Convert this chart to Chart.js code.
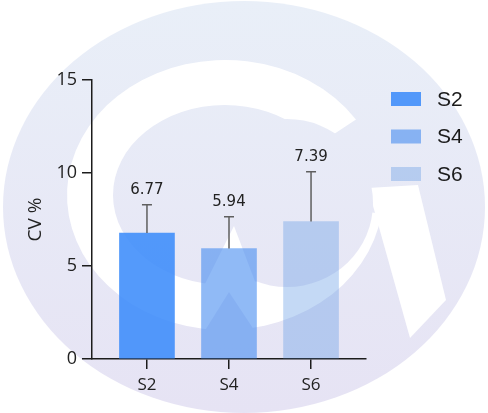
<!DOCTYPE html>
<html>
<head>
<meta charset="utf-8">
<script src="https://cdn.jsdelivr.net/npm/chart.js@4/dist/chart.umd.min.js"></script>
<style>
  html, body { margin: 0; padding: 0; background: #ffffff; }
  #wrap { width: 488px; height: 413px; }
</style>
</head>
<body>
<div id="wrap"><canvas id="chart-1" width="488" height="413"></canvas></div>
<script>
// data
var categories = ["S2", "S4", "S6"];
var cvValues = [6.77, 5.94, 7.39];
var errValues = [1.52, 1.71, 2.68]; // upper error bar length
var yTicks = [0, 5, 10, 15];

var barColors = [
  "rgba(60, 140, 250, 0.88)",
  "rgba(70, 140, 240, 0.6)",
  "rgba(100, 155, 230, 0.38)",
];

// faint round logo behind the plot
var watermark = {
  id: "watermark",
  beforeDraw: function (chart) {
    var ctx = chart.ctx;
    var lav = ctx.createLinearGradient(0, 0, 0, 413);
    lav.addColorStop(0, "#e9eff8");
    lav.addColorStop(1, "#e6e3f4");
    var rad = Math.PI / 180;
    ctx.save();
    ctx.fillStyle = "#ffffff";
    ctx.fillRect(0, 0, chart.width, chart.height);
    ctx.fillStyle = lav;
    ctx.beginPath();
    ctx.ellipse(244, 207, 241, 206, 0, 0, Math.PI * 2);
    ctx.fill();
    // white C ring
    ctx.fillStyle = "#ffffff";
    ctx.beginPath();
    ctx.ellipse(225, 195, 158, 135, 0, 8 * rad, 326 * rad);
    ctx.ellipse(225, 195, 112, 90, 0, 326 * rad, 8 * rad, true);
    ctx.closePath();
    ctx.fill();
    // white stroke towards the V
    ctx.beginPath();
    ctx.moveTo(368, 188);
    ctx.lineTo(418, 185);
    ctx.lineTo(446, 300);
    ctx.lineTo(410, 338);
    ctx.closePath();
    ctx.fill();
    // right inner lobe
    ctx.fillStyle = lav;
    ctx.beginPath();
    ctx.ellipse(287, 203, 86, 84, 0, 0, Math.PI * 2);
    ctx.fill();
    // white notch between inner lobes
    ctx.fillStyle = "#ffffff";
    ctx.beginPath();
    ctx.moveTo(186, 322);
    ctx.lineTo(234, 226);
    ctx.lineTo(262, 300);
    ctx.lineTo(262, 322);
    ctx.closePath();
    ctx.fill();
    // lavender notch at the bottom of the ring
    ctx.fillStyle = lav;
    ctx.beginPath();
    ctx.moveTo(196, 345);
    ctx.lineTo(229, 292);
    ctx.lineTo(264, 345);
    ctx.closePath();
    ctx.fill();
    ctx.restore();
  },
};

// error bars, value labels and the legend on the right
var extras = {
  id: "extras",
  afterDatasetsDraw: function (chart) {
    var ctx = chart.ctx;
    var xs = chart.scales.x;
    var ys = chart.scales.y;
    ctx.save();
    for (var i = 0; i < categories.length; i++) {
      var px = xs.getPixelForValue(i);
      var base = ys.getPixelForValue(cvValues[i]);
      var top = ys.getPixelForValue(cvValues[i] + errValues[i]);
      ctx.strokeStyle = "#5f5f5f";
      ctx.lineWidth = 1.5;
      ctx.beginPath();
      ctx.moveTo(px, base);
      ctx.lineTo(px, top);
      ctx.moveTo(px - 5, top);
      ctx.lineTo(px + 5, top);
      ctx.stroke();
      ctx.fillStyle = "#222222";
      ctx.font = "15px 'DejaVu Sans'";
      ctx.textAlign = "center";
      ctx.textBaseline = "alphabetic";
      ctx.fillText(cvValues[i].toFixed(2), px, top - 11);
    }
    // legend
    for (var j = 0; j < categories.length; j++) {
      var cy = 99 + j * 37.5;
      ctx.fillStyle = barColors[j];
      ctx.fillRect(391, cy - 7, 30, 14);
      ctx.fillStyle = "#1a1a1a";
      ctx.font = "21px 'Liberation Sans'";
      ctx.textAlign = "left";
      ctx.textBaseline = "middle";
      ctx.fillText(categories[j], 437, cy + 1);
    }
    ctx.restore();
  },
};

var chartOne = document.getElementById("chart-1").getContext("2d");
var myBarChart = new Chart(chartOne, {
  type: "bar",
  data: {
    datasets: [
      {
        label: "CV %",
        data: categories.map(function (c, i) {
          return { x: i, y: cvValues[i] };
        }),
        backgroundColor: barColors,
        borderWidth: 0,
        barThickness: 55,
      },
    ],
  },
  plugins: [watermark, extras],
  options: {
    responsive: false,
    animation: false,
    layout: {
      padding: { top: 80, right: 122, bottom: 0, left: 0 },
    },
    plugins: {
      legend: { display: false },
      tooltip: { enabled: false },
    },
    scales: {
      x: {
        type: "linear",
        min: -0.67,
        max: 2.67,
        offset: false,
        afterFit: function (scale) {
          scale.height = 54;
        },
        grid: {
          offset: false,
          drawOnChartArea: false,
          drawTicks: true,
          tickLength: 10,
          color: "#1c1c1c",
          lineWidth: 1.5,
        },
        border: { color: "#1c1c1c", width: 1.5 },
        ticks: {
          stepSize: 1,
          includeBounds: false,
          padding: 6,
          color: "#222222",
          font: { family: "'Open Sans'", size: 17 },
          callback: function (v) {
            return categories[v] !== undefined ? categories[v] : "";
          },
        },
      },
      y: {
        min: 0,
        max: 15,
        afterFit: function (scale) {
          scale.width = 92;
        },
        afterBuildTicks: function (scale) {
          scale.ticks = yTicks.map(function (v) {
            return { value: v };
          });
        },
        grid: {
          drawOnChartArea: false,
          drawTicks: true,
          tickLength: 10,
          color: "#1c1c1c",
          lineWidth: 1.5,
        },
        border: { color: "#1c1c1c", width: 1.5 },
        ticks: {
          padding: 5,
          color: "#222222",
          font: { family: "'Open Sans'", size: 18 },
        },
        title: {
          display: true,
          text: "CV %",
          color: "#222222",
          font: { family: "'Open Sans'", size: 19 },
          padding: { top: 24, bottom: 0 },
        },
      },
    },
  },
});
</script>
</body>
</html>
